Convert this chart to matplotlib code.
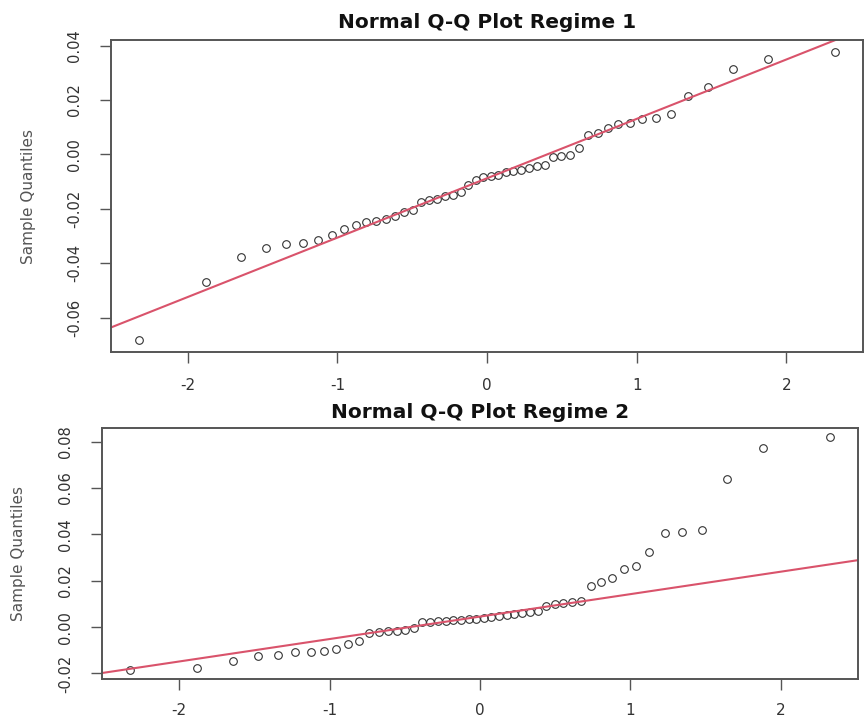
import matplotlib
matplotlib.use("Agg")
import matplotlib.pyplot as plt
import numpy as np
from statistics import NormalDist
from matplotlib.ticker import FormatStrFormatter

plt.rcParams["axes.unicode_minus"] = False

# sorted sample values (n = 50 each)
regime1 = [
    -0.0684, -0.0469, -0.0378, -0.0345, -0.0331, -0.0324, -0.0313, -0.0298, -0.0275, -0.0258,
    -0.0250, -0.0243, -0.0238, -0.0226, -0.0210, -0.0204, -0.0175, -0.0167, -0.0164, -0.0153,
    -0.0149, -0.0138, -0.0113, -0.0095, -0.0084, -0.0078, -0.0074, -0.0065, -0.0062, -0.0058,
    -0.0051, -0.0044, -0.0040, -0.0011, -0.0007, -0.0004, 0.0022, 0.0072, 0.0080, 0.0098,
    0.0113, 0.0116, 0.0131, 0.0135, 0.0149, 0.0215, 0.0247, 0.0313, 0.0349, 0.0378,
]
regime2 = [
    -0.0184, -0.0176, -0.0146, -0.0124, -0.0120, -0.0107, -0.0107, -0.0103, -0.0094, -0.0073,
    -0.0060, -0.0026, -0.0021, -0.0017, -0.0017, -0.0013, -0.0004, 0.0021, 0.0021, 0.0026,
    0.0026, 0.0030, 0.0030, 0.0034, 0.0034, 0.0039, 0.0043, 0.0047, 0.0051, 0.0056,
    0.0060, 0.0064, 0.0069, 0.0090, 0.0099, 0.0103, 0.0107, 0.0112, 0.0176, 0.0193,
    0.0210, 0.0249, 0.0262, 0.0322, 0.0408, 0.0412, 0.0420, 0.0639, 0.0772, 0.0819,
]
titles = ["Normal Q-Q Plot Regime 1", "Normal Q-Q Plot Regime 2"]
xticks = [-2, -1, 0, 1, 2]
yticks1 = [-0.06, -0.04, -0.02, 0.00, 0.02, 0.04]
yticks2 = [-0.02, 0.00, 0.02, 0.04, 0.06, 0.08]

LINE_COL = "#D9536B"
INK = "#333333"


def qq(sample):
    y = np.sort(np.asarray(sample))
    n = len(y)
    p = (np.arange(1, n + 1) - 0.5) / n  # R ppoints for n > 10
    x = np.array([NormalDist().inv_cdf(v) for v in p])
    return x, y


def qqline(sample):
    q1, q3 = np.quantile(sample, [0.25, 0.75])
    z1, z3 = NormalDist().inv_cdf(0.25), NormalDist().inv_cdf(0.75)
    slope = (q3 - q1) / (z3 - z1)
    return slope, q1 - slope * z1


def r_range(v):
    lo, hi = min(v), max(v)
    d = 0.04 * (hi - lo)
    return lo - d, hi + d


fig = plt.figure(figsize=(8.65, 7.2), dpi=100)
ax1 = fig.add_axes([0.1283, 0.5111, 0.8694, 0.4333])
ax2 = fig.add_axes([0.1179, 0.0569, 0.8740, 0.3486])

for ax, data, title, yt, tpad, xpad in [
    (ax1, regime1, titles[0], yticks1, 9, 11),
    (ax2, regime2, titles[1], yticks2, 7, 9),
]:
    x, y = qq(data)
    ax.plot(x, y, "o", mfc="none", mec=INK, ms=5.5, mew=0.8)
    slope, icpt = qqline(data)
    xl = r_range(x)
    ax.set_xlim(xl)
    ax.set_ylim(r_range(y))
    xs = np.array(xl)
    ax.plot(xs, icpt + slope * xs, color=LINE_COL, lw=1.5)

    ax.set_title(title, fontsize=14.5, fontweight="bold", pad=tpad, color="#111111")
    ax.set_xticks(xticks)
    ax.set_yticks(yt)
    ax.yaxis.set_major_formatter(FormatStrFormatter("%.2f"))
    ax.tick_params(axis="both", direction="out", length=8, width=1, color="#555555",
                   labelcolor=INK, labelsize=10.5)
    ax.tick_params(axis="x", pad=xpad, labelsize=11)
    ax.tick_params(axis="y", pad=13, labelrotation=90)
    for lab in ax.get_yticklabels():
        lab.set_verticalalignment("center")
    ax.set_ylabel("Sample Quantiles", fontsize=11, color="#555555")
    ax.yaxis.set_label_coords(-0.100, 0.5)
    for s in ax.spines.values():
        s.set_color("#555555")
        s.set_linewidth(1.4)

fig.savefig("out.png", dpi=100, facecolor="white")
